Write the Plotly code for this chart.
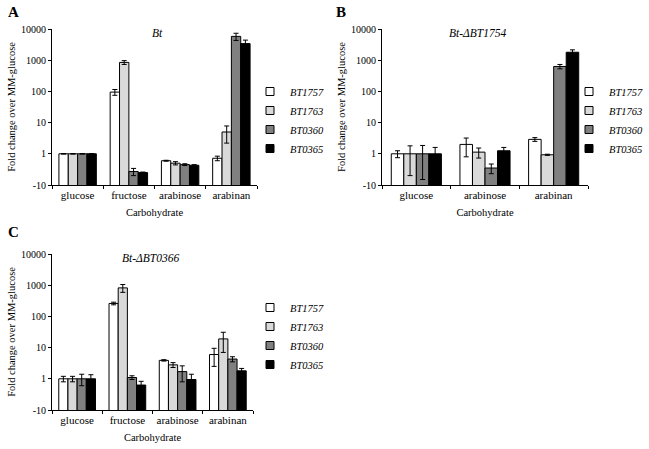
import plotly.graph_objects as go

genes = ["BT1757", "BT1763", "BT0360", "BT0365"]
colors = ["#ffffff", "#d9d9d9", "#808080", "#000000"]

cats_A = ["glucose", "fructose", "arabinose", "arabinan"]
vals_A = {
    "BT1757": [1.0, 95, 0.60, 0.72],
    "BT1763": [1.0, 850, 0.50, 5.0],
    "BT0360": [1.0, 0.27, 0.45, 5800],
    "BT0365": [1.0, 0.25, 0.43, 3400],
}
err_A = {
    "BT1757": [0.02, 20, 0.02, 0.12],
    "BT1763": [0.02, 120, 0.06, 2.8],
    "BT0360": [0.02, 0.07, 0.03, 1500],
    "BT0365": [0.02, 0.01, 0.02, 1000],
}

cats_B = ["glucose", "arabinose", "arabinan"]
vals_B = {
    "BT1757": [1.0, 2.0, 2.9],
    "BT1763": [1.0, 1.13, 0.93],
    "BT0360": [1.0, 0.35, 630],
    "BT0365": [1.0, 1.25, 1800],
}
err_B = {
    "BT1757": [0.25, 1.2, 0.4],
    "BT1763": [0.8, 0.4, 0.04],
    "BT0360": [0.85, 0.12, 100],
    "BT0365": [0.6, 0.35, 350],
}

cats_C = ["glucose", "fructose", "arabinose", "arabinan"]
vals_C = {
    "BT1757": [1.0, 260, 3.9, 6.0],
    "BT1763": [1.0, 820, 2.8, 19],
    "BT0360": [1.0, 1.1, 1.7, 4.3],
    "BT0365": [1.0, 0.63, 0.95, 1.8],
}
err_C = {
    "BT1757": [0.2, 25, 0.2, 3.5],
    "BT1763": [0.2, 230, 0.5, 12],
    "BT0360": [0.4, 0.15, 0.9, 0.8],
    "BT0365": [0.35, 0.2, 0.45, 0.35],
}

y_tickvals = [0.1, 1, 10, 100, 1000, 10000]
y_ticktext = ["-10", "1", "10", "100", "1000", "10000"]

W, H = 649, 449
FONT = "Liberation Serif, Times New Roman, serif"

def px(x):
    return x / W

def py(y):
    return 1 - y / H

panels = [
    dict(cats=cats_A, vals=vals_A, errs=err_A, xa="x", ya="y", leg="legend",
         xdom=[px(52), px(257)], ydom=[py(185), py(29)]),
    dict(cats=cats_B, vals=vals_B, errs=err_B, xa="x2", ya="y2", leg="legend2",
         xdom=[px(382), px(588)], ydom=[py(185), py(29)]),
    dict(cats=cats_C, vals=vals_C, errs=err_C, xa="x3", ya="y3", leg="legend3",
         xdom=[px(52), px(253)], ydom=[py(410), py(254)]),
]

fig = go.Figure()
for p in panels:
    for g, c in zip(genes, colors):
        fig.add_trace(go.Bar(
            x=p["cats"], y=p["vals"][g], name="<i>" + g + "</i>",
            marker=dict(color=c, line=dict(color="#000000", width=1)),
            error_y=dict(type="data", array=p["errs"][g], color="#000000",
                         thickness=1, width=2.5),
            xaxis=p["xa"], yaxis=p["ya"], showlegend=False,
        ))
    # legend-only entries with small square symbols
    for g, c in zip(genes, colors):
        fig.add_trace(go.Scatter(
            x=[None], y=[None], mode="markers", name="<i>" + g + "</i>",
            marker=dict(symbol="square", size=8, color=c,
                        line=dict(color="#000000", width=1)),
            xaxis=p["xa"], yaxis=p["ya"], legend=p["leg"], showlegend=True,
        ))

axis_common_x = dict(showline=True, linecolor="#000000", linewidth=1,
                     ticks="outside", tickson="boundaries", ticklen=3,
                     tickcolor="#000000", showgrid=False, tickangle=0,
                     automargin=False,
                     tickfont=dict(family=FONT, size=11, color="#000000"),
                     title=dict(text="Carbohydrate", standoff=8,
                                font=dict(family=FONT, size=10.5, color="#000000")))
axis_common_y = dict(type="log", range=[-1, 4], showline=True, linecolor="#000000",
                     linewidth=1, ticks="outside", ticklen=3, tickcolor="#000000",
                     showgrid=False, zeroline=False, automargin=False,
                     tickvals=y_tickvals, ticktext=y_ticktext,
                     tickfont=dict(family=FONT, size=10, color="#000000"),
                     title=dict(text="Fold change over MM-glucose", standoff=3,
                                font=dict(family=FONT, size=10.5, color="#000000")))

layout = dict(
    width=W, height=H, margin=dict(l=0, r=0, t=0, b=0, autoexpand=False),
    plot_bgcolor="#ffffff", paper_bgcolor="#ffffff",
    barmode="group", bargap=0.27, bargroupgap=0,
    font=dict(family=FONT, color="#000000"),
)
for i, p in enumerate(panels):
    sfx = "" if i == 0 else str(i + 1)
    layout["xaxis" + sfx] = dict(axis_common_x, domain=p["xdom"], anchor="y" + sfx)
    layout["yaxis" + sfx] = dict(axis_common_y, domain=p["ydom"], anchor="x" + sfx)

legend_common = dict(font=dict(family=FONT, size=10.5, color="#000000"),
                     bgcolor="rgba(0,0,0,0)", yanchor="middle", xanchor="left",
                     tracegroupgap=0, itemwidth=30, itemsizing="trace")
layout["legend"] = dict(legend_common, x=px(250), y=py(120))
layout["legend2"] = dict(legend_common, x=px(569), y=py(120))
layout["legend3"] = dict(legend_common, x=px(250), y=py(336))
fig.update_layout(**layout)

annots = [
    dict(text="<b>A</b>", x=px(6), y=py(2), size=15),
    dict(text="<b>B</b>", x=px(334), y=py(2), size=15),
    dict(text="<b>C</b>", x=px(6), y=py(222), size=15),
]
for a in annots:
    fig.add_annotation(text=a["text"], x=a["x"], y=a["y"], xref="paper", yref="paper",
                       xanchor="left", yanchor="top", showarrow=False,
                       font=dict(family=FONT, size=a["size"], color="#000000"))

subs = [("<i>Bt</i>", px(157), py(33)),
        ("<i>Bt-ΔBT1754</i>", px(477), py(33)),
        ("<i>Bt-ΔBT0366</i>", px(150), py(258))]
for t, x, y in subs:
    fig.add_annotation(text=t, x=x, y=y, xref="paper", yref="paper",
                       xanchor="center", yanchor="middle", showarrow=False,
                       font=dict(family=FONT, size=11.5, color="#000000"))

fig.write_html("out.html", config={"displayModeBar": False},
               post_script="document.body.style.margin='0';document.body.style.overflow='hidden';")
